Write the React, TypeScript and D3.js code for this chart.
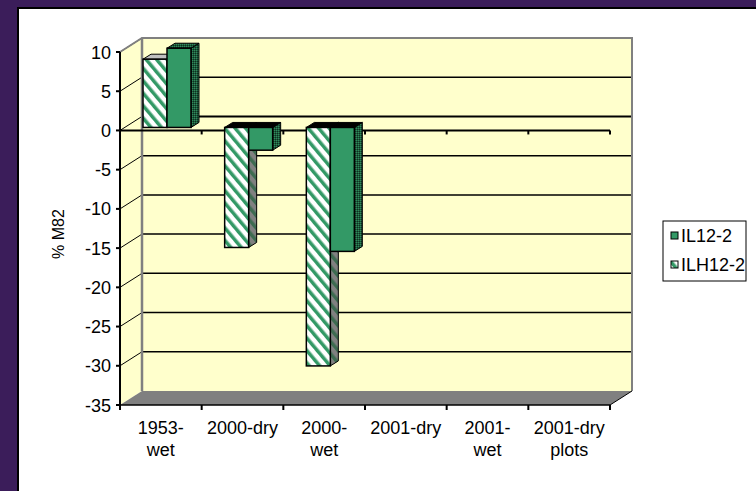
import * as d3 from 'd3';

// categories and values
const categories = ['1953-wet', '2000-dry', '2000-wet', '2001-dry', '2001-wet', '2001-dry plots'];
const categoryLines = [
  ['1953-', 'wet'],
  ['2000-dry'],
  ['2000-', 'wet'],
  ['2001-dry'],
  ['2001-', 'wet'],
  ['2001-dry', 'plots'],
];
const seriesNames = ['ILH12-2', 'IL12-2'];
const ilh12Values = [8.7, -15.3, -30.4, null, null, null];
const il12Values = [10.1, -2.9, -15.8, null, null, null];
const yTicks = [10, 5, 0, -5, -10, -15, -20, -25, -30, -35];

const W = 756;
const H = 491;
const FONT = 'Liberation Sans, Arial, sans-serif';
const GREEN = '#339966';

function App() {
  // front plane
  const y = d3.scaleLinear().domain([-35, 10]).range([405, 52]);
  const x = d3.scaleBand().domain(categories).range([120, 610]);
  const xs = d3.scaleBand().domain(seriesNames).range([0, 48]);

  // depth of the walls and of the bars
  const wall = { dx: 22, dy: -14 };
  const barOff = { dx: 6, dy: -3 };
  const barDepth = { dx: 8, dy: -5 };

  const x0 = 120;
  const x1 = 610;
  const yTop = y(10);
  const yBot = y(-35);

  const poly = (pts: number[][]) => 'M' + pts.map((p) => p.join(',')).join('L') + 'Z';

  const bars: JSX.Element[] = [];
  categories.forEach((c, i) => {
    const items = [
      { name: 'ILH12-2', v: ilh12Values[i] },
      { name: 'IL12-2', v: il12Values[i] },
    ];
    items.forEach((it) => {
      if (it.v == null) return;
      const bx = (x(c) as number) + 17 + barOff.dx + (xs(it.name) as number);
      const bw = xs.bandwidth();
      const yz = y(0) + barOff.dy;
      const yv = y(it.v) + barOff.dy;
      const top = Math.min(yz, yv);
      const bot = Math.max(yz, yv);
      const hatched = it.name === 'ILH12-2';
      const front = hatched ? 'url(#hatch)' : GREEN;
      const side = hatched ? 'url(#hatchSide)' : 'url(#greenSide)';
      const topFill = it.v >= 0 ? (hatched ? '#c0c0c0' : 'url(#greenSide)') : '#000';
      const dx = barDepth.dx;
      const dy = barDepth.dy;
      bars.push(
        <g key={c + it.name}>
          <path
            d={poly([[bx + bw, top], [bx + bw + dx, top + dy], [bx + bw + dx, bot + dy], [bx + bw, bot]])}
            fill={side}
            stroke="#000"
            strokeWidth={1}
          />
          <path
            d={poly([[bx, top], [bx + dx, top + dy], [bx + bw + dx, top + dy], [bx + bw, top]])}
            fill={topFill}
            stroke="#000"
            strokeWidth={1}
          />
          <rect x={bx} y={top} width={bw} height={bot - top} fill={front} stroke="#000" strokeWidth={1.5} />
        </g>,
      );
    });
  });

  const boundaries = d3.range(categories.length + 1).map((k) => x0 + k * x.bandwidth());

  return (
    <svg width={W} height={H} style={{ position: 'absolute', left: 0, top: 0 }} fontFamily={FONT}>
      <defs>
        <pattern id="hatch" width={8} height={8} patternUnits="userSpaceOnUse" patternTransform="rotate(-40)">
          <rect width={8} height={8} fill="#fff" />
          <rect width={3.5} height={8} fill={GREEN} />
        </pattern>
        <pattern id="hatchSide" width={8} height={8} patternUnits="userSpaceOnUse" patternTransform="rotate(-40)">
          <rect width={8} height={8} fill="#808080" />
          <rect width={3.5} height={8} fill="#3d6b50" />
        </pattern>
        <pattern id="greenSide" width={2} height={2} patternUnits="userSpaceOnUse">
          <rect width={2} height={2} fill="#1d5a3b" />
          <rect width={1} height={1} fill="#2f8a5c" />
          <rect x={1} y={1} width={1} height={1} fill="#0d3020" />
        </pattern>
      </defs>

      {/* frame */}
      <rect width={W} height={H} fill="#3b1d5a" />
      <rect x={17} y={7} width={W - 17} height={H - 7} fill="#000" />
      <rect x={19} y={9} width={W - 19} height={H - 9} fill="#fff" />

      {/* back wall, side wall, floor */}
      <path d={poly([[x0 + wall.dx, yTop + wall.dy], [x1 + wall.dx, yTop + wall.dy], [x1 + wall.dx, yBot + wall.dy], [x0 + wall.dx, yBot + wall.dy]])} fill="#ffffcc" />
      <path d={poly([[x0, yTop], [x0 + wall.dx, yTop + wall.dy], [x0 + wall.dx, yBot + wall.dy], [x0, yBot]])} fill="#ffffcc" />
      <path d={poly([[x0, yBot], [x1, yBot], [x1 + wall.dx, yBot + wall.dy], [x0 + wall.dx, yBot + wall.dy]])} fill="#808080" />

      {/* gridlines */}
      {yTicks.filter((t) => t < 10 && t > -35).map((t) => (
        <line key={'g' + t} x1={x0 + wall.dx} x2={x1 + wall.dx} y1={y(t) + wall.dy} y2={y(t) + wall.dy} stroke="#000" strokeWidth={t === 0 ? 2 : 1.5} />
      ))}
      {yTicks.filter((t) => t > -35).map((t) => (
        <line key={'s' + t} x1={x0} x2={x0 + wall.dx} y1={y(t)} y2={y(t) + wall.dy} stroke="#000" strokeWidth={1} />
      ))}

      {/* wall border */}
      <path
        d={`M${x0},${yTop}L${x0 + wall.dx},${yTop + wall.dy}L${x1 + wall.dx},${yTop + wall.dy}L${x1 + wall.dx},${yBot + wall.dy}`}
        fill="none"
        stroke="#808080"
        strokeWidth={2}
      />
      <line x1={x0 + wall.dx} x2={x0 + wall.dx} y1={yTop + wall.dy} y2={yBot + wall.dy} stroke="#808080" strokeWidth={2.5} />
      <line x1={x1} x2={x1 + wall.dx} y1={yBot} y2={yBot + wall.dy} stroke="#000" strokeWidth={1} />

      {/* zero line in front plane */}
      <line x1={x0} x2={x1} y1={y(0)} y2={y(0)} stroke="#000" strokeWidth={2} />
      {boundaries.slice(1).map((bx) => (
        <line key={'z' + bx} x1={bx} x2={bx} y1={y(0)} y2={y(0) + 4} stroke="#000" strokeWidth={2} />
      ))}

      {bars}

      {/* axes */}
      <line x1={x0} x2={x0} y1={yTop} y2={yBot} stroke="#000" strokeWidth={2} />
      <line x1={x0} x2={x1} y1={yBot} y2={yBot} stroke="#000" strokeWidth={1.5} />
      {yTicks.map((t) => (
        <g key={'t' + t}>
          <line x1={x0 - 4} x2={x0} y1={y(t)} y2={y(t)} stroke="#000" strokeWidth={2} />
          <text x={111} y={y(t) + 6.5} fontSize={18} textAnchor="end" fill="#000">
            {t}
          </text>
        </g>
      ))}
      {boundaries.map((bx) => (
        <line key={'b' + bx} x1={bx} x2={bx} y1={yBot} y2={yBot + 5} stroke="#000" strokeWidth={2} />
      ))}
      {categories.map((c, i) => (
        <text key={'c' + c} x={(x(c) as number) + x.bandwidth() / 2} y={434} fontSize={18} textAnchor="middle" fill="#000">
          {categoryLines[i].map((line, k) => (
            <tspan key={k} x={(x(c) as number) + x.bandwidth() / 2} dy={k === 0 ? 0 : 22}>
              {line}
            </tspan>
          ))}
        </text>
      ))}

      <text transform="translate(64,234) rotate(-90)" fontSize={16} textAnchor="middle" fill="#000">
        % M82
      </text>

      {/* legend */}
      <rect x={663} y={221} width={83} height={60} fill="#fff" stroke="#000" strokeWidth={1} />
      <rect x={671} y={232} width={7} height={7} fill={GREEN} stroke="#000" strokeWidth={1} />
      <text x={681} y={242} fontSize={18} fill="#000">IL12-2</text>
      <rect x={671} y={261} width={7} height={7} fill="url(#hatch)" stroke="#000" strokeWidth={1} />
      <text x={681} y={271} fontSize={18} fill="#000">ILH12-2</text>
    </svg>
  );
}

export default App;
